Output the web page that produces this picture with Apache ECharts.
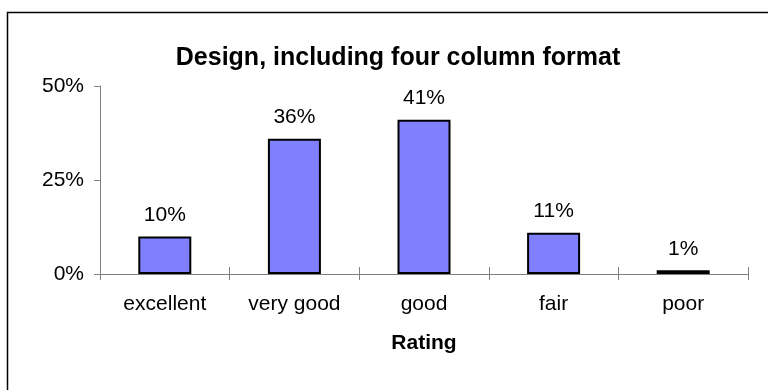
<!DOCTYPE html>
<html>
<head>
<meta charset="utf-8">
<script src="https://cdn.jsdelivr.net/npm/echarts@6/dist/echarts.min.js"></script>
<style>
  html, body { margin: 0; padding: 0; background: #fff; }
  #chart { width: 768px; height: 390px; }
</style>
</head>
<body>
<div id="chart"></div>
<script>
// Survey results: share of responses per rating
const titleText = 'Design, including four column format';
const axisName = 'Rating';
const categories = ['excellent', 'very good', 'good', 'fair', 'poor'];
const percentages = [10, 36, 41, 11, 1];
const yTicks = [0, 25, 50];

const FONT = '"Liberation Sans", Arial, sans-serif';
const chart = echarts.init(document.getElementById('chart'), null, { renderer: 'canvas' });

const tickStyle = { color: '#808080', width: 1 };

chart.setOption({
  animation: false,
  backgroundColor: '#ffffff',
  graphic: [{
    type: 'rect',
    shape: { x: 7.5, y: 12.5, width: 820, height: 420 },
    style: { fill: 'none', stroke: '#000', lineWidth: 1.5 },
    silent: true
  }],
  title: {
    text: titleText,
    left: 393,
    textAlign: 'center',
    top: 41,
    textStyle: { fontFamily: FONT, fontSize: 25, fontWeight: 'bold', color: '#000' }
  },
  grid: { left: 100, right: 20, top: 86, bottom: 116, containLabel: false },
  xAxis: [{
    type: 'category',
    data: categories,
    position: 'bottom',
    boundaryGap: true,
    name: axisName,
    nameLocation: 'middle',
    nameGap: 59,
    nameTextStyle: { fontFamily: FONT, fontSize: 21, fontWeight: 'bold', color: '#000' },
    axisLine: { lineStyle: { color: '#808080', width: 1 } },
    axisTick: { show: true, inside: false, length: 6, lineStyle: tickStyle },
    axisLabel: { fontFamily: FONT, fontSize: 21, color: '#000', margin: 20 }
  }, {
    // inward half of the crossing tick marks
    type: 'category',
    data: categories,
    position: 'bottom',
    boundaryGap: true,
    axisLine: { show: false },
    axisTick: { show: true, inside: true, length: 7, lineStyle: tickStyle },
    axisLabel: { show: false }
  }],
  yAxis: {
    type: 'value',
    min: yTicks[0],
    max: yTicks[yTicks.length - 1],
    interval: yTicks[1] - yTicks[0],
    splitLine: { show: false },
    axisLine: { show: true, lineStyle: { color: '#808080', width: 1 } },
    axisTick: { show: true, inside: false, length: 6, lineStyle: tickStyle },
    axisLabel: { fontFamily: FONT, fontSize: 21, color: '#000', margin: 16, formatter: '{value}%' }
  },
  series: [{
    type: 'bar',
    xAxisIndex: 0,
    data: percentages,
    barWidth: 53,
    itemStyle: { color: '#8080FF', borderColor: '#000', borderWidth: 2 },
    label: {
      show: true,
      position: 'top',
      distance: 11,
      formatter: '{c}%',
      fontFamily: FONT,
      fontSize: 21,
      color: '#000'
    }
  }]
});
</script>
</body>
</html>
